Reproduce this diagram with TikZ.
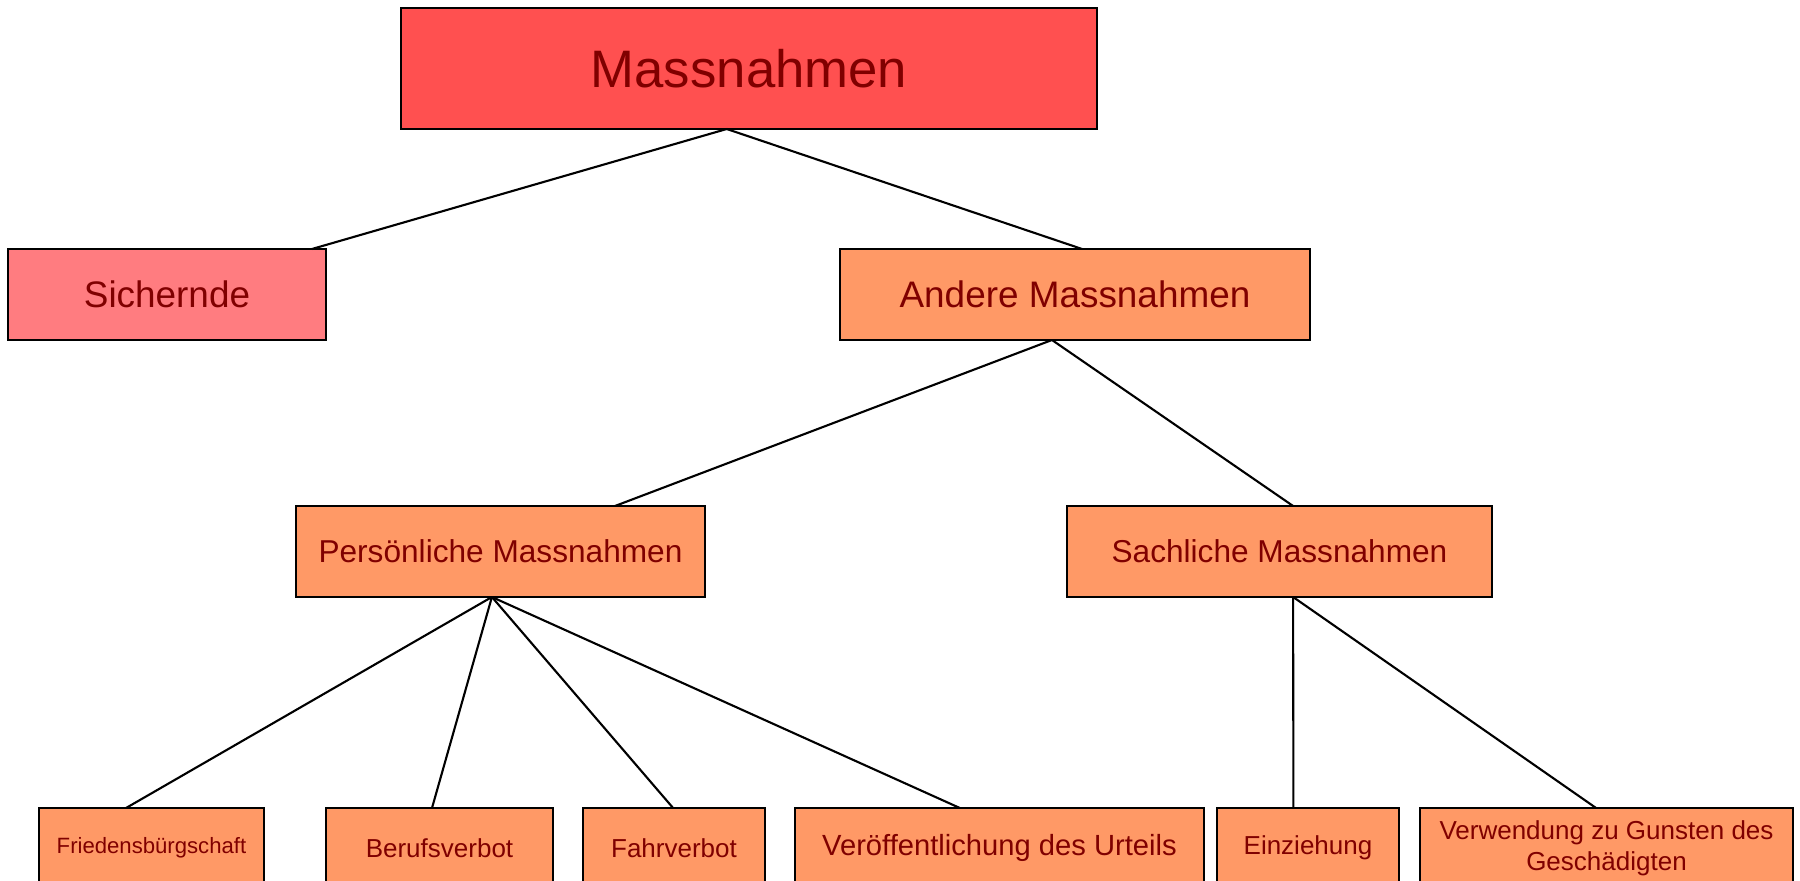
\documentclass[tikz,border=0pt]{standalone}
\usepackage{fontspec}
\setmainfont{Liberation Sans}
\usetikzlibrary{positioning,calc}

\definecolor{massred}{HTML}{FF5050}
\definecolor{sichred}{HTML}{FF7C80}
\definecolor{otherorange}{HTML}{FF9966}
\definecolor{textred}{HTML}{800000}

\begin{document}
\begin{tikzpicture}[
  every node/.style={draw,line width=0.6pt,inner sep=0pt,outer sep=0pt,text=textred,fill=otherorange},
  lvlzero/.style={fill=massred,minimum width=6.96cm,minimum height=1.21cm,font=\fontsize{15}{18}\selectfont},
  lvlone/.style={minimum height=0.91cm,font=\fontsize{10.5}{12.6}\selectfont},
  lvltwo/.style={minimum height=0.91cm,font=\fontsize{9}{10.8}\selectfont},
  lvlthree/.style={minimum height=0.80cm,font=\fontsize{7.4}{8.8}\selectfont,align=center},
  node distance=.3cm,
  ]
  \clip (0,0) rectangle (18,-8.81);
  \node[lvlzero] (M) at (7.49,-0.685) {Massnahmen};
  \node[lvlone, fill=sichred, minimum width=3.18cm] (S) at (1.67,-2.945) {Sichernde};
  \node[lvlone, minimum width=4.70cm, right = 5.14 of S] (A) {Andere Massnahmen};
  \node[lvltwo, minimum width=4.09cm, below left = 1.66 and 1.35 of A] (P) {Persönliche Massnahmen};
  \node[lvltwo, minimum width=4.25cm, right = 3.62 of P] (Sa) {Sachliche Massnahmen};
  \node[lvlthree, minimum width=2.25cm, font=\fontsize{6.3}{8}\selectfont, below left = 2.11 and 0.32 of P] (F) {Friedensbürgschaft};
  \node[lvlthree, minimum width=2.27cm, right = 0.62 of F] (B) {Berufsverbot};
  \node[lvlthree, minimum width=1.82cm, right = of B] (Fa) {Fahrverbot};
  \node[lvlthree, minimum width=4.09cm, font=\fontsize{8.3}{10}\selectfont, right = of Fa] (V) {Veröffentlichung des Urteils};
  \node[lvlthree, minimum width=1.82cm, right = 0.13 of V] (E) {Einziehung};
  \node[lvlthree, minimum width=3.73cm, right = 0.21 of E] (G) {Verwendung zu Gunsten des\\Geschädigten};

  \draw [line width=0.6pt] ($(M.south west)!.468!(M.south east)$) -- ($(S.north west)!.956!(S.north east)$);
  \draw [line width=0.6pt] ($(M.south west)!.468!(M.south east)$) -- ($(A.north west)!.515!(A.north east)$);
  \draw [line width=0.6pt] ($(A.south west)!.451!(A.south east)$) -- ($(P.north west)!.780!(P.north east)$);
  \draw [line width=0.6pt] ($(A.south west)!.451!(A.south east)$) -- ($(Sa.north west)!.532!(Sa.north east)$);
  \draw [line width=0.6pt] ($(P.south west)!.479!(P.south east)$) -- ($(F.north west)!.387!(F.north east)$);
  \draw [line width=0.6pt] ($(P.south west)!.479!(P.south east)$) -- ($(B.north west)!.467!(B.north east)$);
  \draw [line width=0.6pt] ($(P.south west)!.479!(P.south east)$) -- ($(Fa.north west)!.495!(Fa.north east)$);
  \draw [line width=0.6pt] ($(P.south west)!.479!(P.south east)$) -- ($(V.north west)!.403!(V.north east)$);
  \draw [line width=0.6pt] ($(Sa.south west)!.532!(Sa.south east)$) -- ($(E.north west)!.42!(E.north east)$);
  \draw [line width=0.6pt] ($(Sa.south west)!.532!(Sa.south east)$) -- ($(G.north west)!.472!(G.north east)$);

\end{tikzpicture}
\end{document}
